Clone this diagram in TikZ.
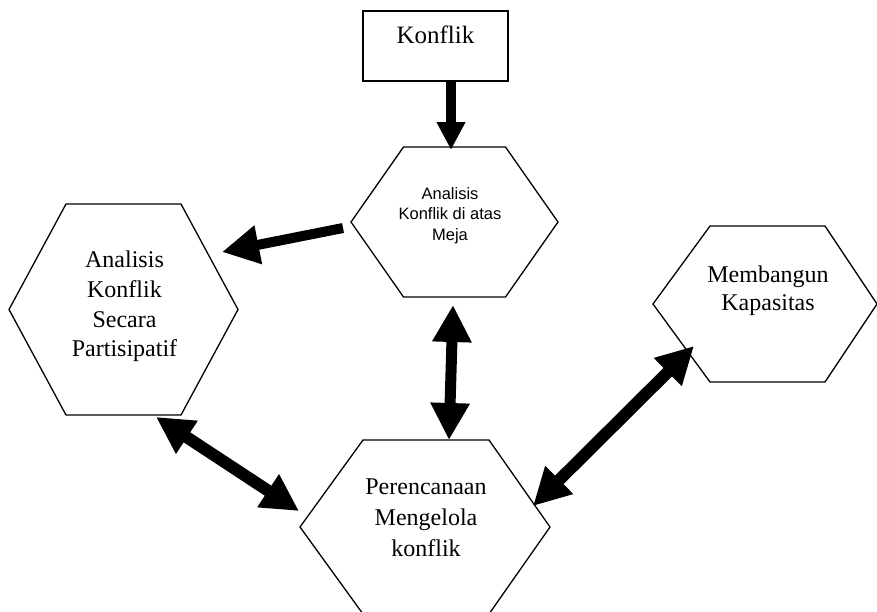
\documentclass[tikz,border=0pt]{standalone}
\usepackage{fontspec}
\setmainfont{Liberation Serif}
\newfontfamily\arialfont{Liberation Sans}
\usetikzlibrary{arrows.meta}
\tikzset{
  hexline/.style={draw=black, line width=1.3pt, line join=miter},
  serif/.style={font=\fontsize{24}{29.7}\selectfont, align=center, inner sep=0pt},
  arr/.style={line width=#1, -{Triangle[length=37pt,width=37pt]}},
  darr/.style={line width=#1, {Triangle[length=37pt,width=37pt]}-{Triangle[length=37pt,width=37pt]}},
}
\begin{document}
\begin{tikzpicture}[x=1pt,y=-1pt]
\useasboundingbox (0,0) rectangle (877,611);
% hexagon centres
\coordinate (hM) at (454.5,222);
\coordinate (hL) at (123.5,309.5);
\coordinate (hR) at (767.5,304);
\coordinate (hB) at (425,527);
% shapes
\node[draw, line width=1.3pt, minimum width=145pt, minimum height=70pt, inner sep=0pt,
      text height=17pt, text depth=23pt, font=\fontsize{25}{30}\selectfont] (konflik) at (435.5,46) {Konflik};
\draw[hexline, shift={(hM)}] (-103.5,0) -- (-51,-75) -- (51,-75) -- (103.5,0) -- (51,75) -- (-51,75) -- cycle;
\draw[hexline, shift={(hL)}] (-114.5,0) -- (-57.5,-105.5) -- (57.5,-105.5) -- (114.5,0) -- (57.5,105.5) -- (-57.5,105.5) -- cycle;
\draw[hexline, shift={(hR)}] (-114.5,0) -- (-57.5,-78) -- (57.5,-78) -- (109.5,0) -- (57.5,78) -- (-57.5,78) -- cycle;
\draw[hexline, shift={(hB)}] (-125,0) -- (-62,-87) -- (64,-87) -- (125,0) -- (64,87) -- (-62,87) -- cycle;
% texts
\node[align=center, inner sep=0pt, font=\arialfont\fontsize{16.5}{20.5}\selectfont] (meja) at (450,215.4) {Analisis\\Konflik di atas\\Meja};
\node[serif] (partisipatif) at (124.5,306.4) {Analisis\\Konflik\\Secara\\Partisipatif};
\node[serif, font=\fontsize{24}{28}\selectfont] (kapasitas) at (768,290.4) {Membangun\\Kapasitas};
\node[serif, font=\fontsize{24}{31}\selectfont] (perencanaan) at (426,518) {Perencanaan\\Mengelola\\konflik};
% connectors
\draw[line width=10pt, -{Triangle[length=28pt,width=27pt]}] ([xshift=15.5pt]konflik.south) -- ([shift={(-3.5,-72)}]hM);
\draw[arr=10pt] ([shift={(-111.5,6)}]hM) -- ([shift={(98.5,-57.5)}]hL);
\draw[darr=11pt] ([shift={(-1.5,83)}]hM) -- ([shift={(24,-87)}]hB);
\draw[darr=12pt] ([shift={(32.5,107.5)}]hL) -- ([shift={(-126,-16)}]hB);
\draw[darr=12pt] ([shift={(108,-21)}]hB) -- ([shift={(-73.5,42)}]hR);
\end{tikzpicture}
\end{document}
